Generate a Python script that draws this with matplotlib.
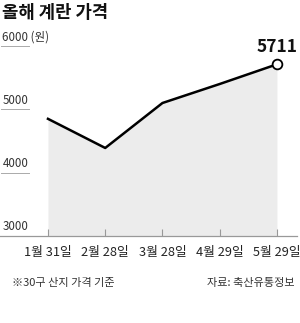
import matplotlib.pyplot as plt
import matplotlib.transforms as mtransforms

plt.rcParams['font.family'] = ['Noto Sans CJK KR', 'DejaVu Sans']

# data
dates = ["1월 31일", "2월 28일", "3월 28일", "4월 29일", "5월 29일"]
prices = [4850, 4390, 5100, 5400, 5711]
y_ticks = [3000, 4000, 5000, 6000]
y_labels = ["3000", "4000", "5000", "6000 (원)"]

fig = plt.figure(figsize=(3.0, 3.23), dpi=100)
W, H = 300, 323
# axes: x from 0 to 297 px, y from 236 (3000) to 46 (6000)
ax = fig.add_axes([0 / W, 1 - 236 / H, 297 / W, (236 - 46) / H])
x = list(range(len(dates)))
ax.set_xlim(-0.838, 4.35)
ax.set_ylim(3000, 6000)

ax.fill_between(x, prices, 3000, color="#ececec", lw=0, zorder=1)
ax.plot(x, prices, color="black", lw=1.8, solid_joinstyle="round", zorder=3)
ax.plot(x[-1], prices[-1], "o", ms=7, mfc="white", mec="black", mew=1.3, zorder=4)
ax.text(x[-1], prices[-1] + 130, f"{prices[-1]}", ha="center", va="bottom",
        fontsize=12.5, fontweight="bold", color="#111111", zorder=5)

for s in ["top", "right", "left"]:
    ax.spines[s].set_visible(False)
ax.spines["bottom"].set_color("#999999")
ax.spines["bottom"].set_linewidth(0.9)
ax.set_yticks([])
ax.set_xticks(x)
ax.set_xticklabels(dates, fontsize=9.2, color="#222222")
ax.tick_params(axis="x", direction="in", length=5, color="#999999", width=0.8, pad=7)

# y labels with underlines
trans = mtransforms.blended_transform_factory(ax.transAxes, ax.transData)
for v, lab in zip(y_ticks, y_labels):
    if v != 3000:
        ax.plot([0.005, 0.098], [v, v], color="#aaaaaa", lw=0.7, transform=trans,
                clip_on=False, zorder=2)
    ax.text(0.008, v + 40, lab, transform=trans, ha="left", va="bottom",
            fontsize=8.3, color="#333333", zorder=5)

fig.text(2 / W, 1 - 13 / H, "올해 계란 가격", ha="left", va="center",
         fontsize=12.8, fontweight="heavy", color="#111111")
fig.text(12 / W, 1 - 283 / H, "※30구 산지 가격 기준", ha="left", va="center",
         fontsize=8, color="#333333")
fig.text(295 / W, 1 - 283 / H, "자료: 축산유통정보", ha="right", va="center",
         fontsize=8, color="#333333")

fig.savefig("out.png", dpi=100)
